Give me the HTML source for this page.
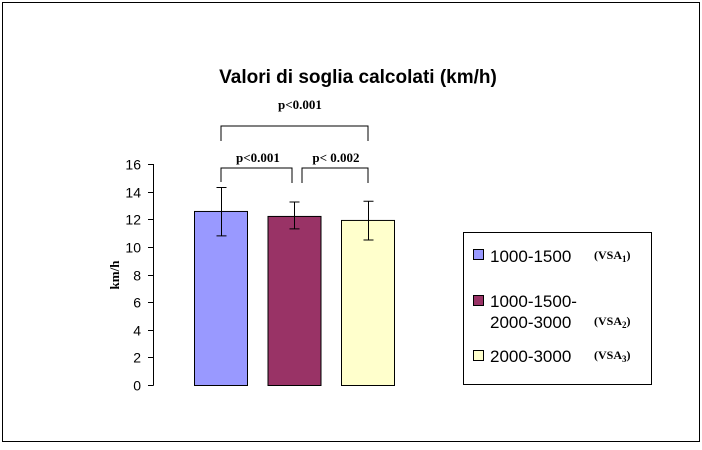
<!DOCTYPE html>
<html><head><meta charset="utf-8"><style>body{margin:0;background:#fff}svg{display:block}</style></head><body>
<svg width="702" height="450" xmlns="http://www.w3.org/2000/svg">
<rect x="2.5" y="2.5" width="697" height="439" fill="#fff" stroke="#000"/>
<text x="358" y="83" font-family="Liberation Sans, sans-serif" font-size="19" font-weight="bold" text-anchor="middle">Valori di soglia calcolati (km/h)</text>
<text x="119" y="275" font-family="Liberation Serif, serif" font-size="13" font-weight="bold" text-anchor="middle" transform="rotate(-90 119 275)">km/h</text>
<g id="axis"></g>
<g id="bars"></g>
<g fill="none" stroke="#000">
<path d="M221 141V126H368V141"/>
<path d="M221 182V168H292V183"/>
<path d="M302 183V168H368V183"/>
</g>
<g font-family="Liberation Serif, serif" font-size="13" font-weight="bold" text-anchor="middle">
<text x="300" y="109">p&lt;0.001</text>
<text x="258" y="162">p&lt;0.001</text>
<text x="336" y="162">p&lt; 0.002</text>
</g>
<g>
<rect x="463.5" y="232.5" width="188" height="152" fill="#fff" stroke="#000"/>
<rect x="473.5" y="249.5" width="10" height="10" fill="#9999ff" stroke="#000"/>
<text x="490" y="262" font-family="Liberation Sans, sans-serif" font-size="17">1000-1500</text>
<text x="594" y="259" font-family="Liberation Serif, serif" font-size="12" font-weight="bold">(VSA<tspan font-size="9" dy="3">1</tspan><tspan dy="-3">)</tspan></text>
<rect x="473.5" y="295.5" width="10" height="10" fill="#993366" stroke="#000"/>
<text x="490" y="307" font-family="Liberation Sans, sans-serif" font-size="17">1000-1500-</text>
<text x="490" y="328" font-family="Liberation Sans, sans-serif" font-size="17">2000-3000</text>
<text x="594" y="325" font-family="Liberation Serif, serif" font-size="12" font-weight="bold">(VSA<tspan font-size="9" dy="3">2</tspan><tspan dy="-3">)</tspan></text>
<rect x="473.5" y="350.5" width="10" height="10" fill="#ffffcc" stroke="#000"/>
<text x="490" y="362" font-family="Liberation Sans, sans-serif" font-size="17">2000-3000</text>
<text x="594" y="359" font-family="Liberation Serif, serif" font-size="12" font-weight="bold">(VSA<tspan font-size="9" dy="3">3</tspan><tspan dy="-3">)</tspan></text>
</g>
</svg>
<script>
const categories = ["VSA1", "VSA2", "VSA3"];
const values = [12.6, 12.24, 11.95];
const errLow = [10.8, 11.3, 10.5];
const errHigh = [14.3, 13.25, 13.3];
const colors = ["#9999ff", "#993366", "#ffffcc"];
const ticks = [0, 2, 4, 6, 8, 10, 12, 14, 16];
const NS = "http://www.w3.org/2000/svg";
const y0 = 385, yTop = 164, vMax = 16;
const yScale = v => y0 - (y0 - yTop) * v / vMax;
const xBand = i => 194 + i * 73.5;
const bw = 53;
function mk(tag, attrs, parent) { const e = document.createElementNS(NS, tag); for (const k in attrs) e.setAttribute(k, attrs[k]); parent.appendChild(e); return e; }
const ax = document.getElementById('axis');
const al = mk('line', {x1: 153.5, x2: 153.5, y1: yTop, y2: y0 + 0.5, stroke: '#000'}, ax);


ticks.forEach(t => {
  const y = Math.round(yScale(t)) + 0.5;
  const tl = mk('line', {x1: 148, x2: 153.5, y1: y, y2: y, stroke: '#000'}, ax);
  
  
  const tx = mk('text', {x: 141, y: y + 5, 'text-anchor': 'end', 'font-family': 'Liberation Sans, sans-serif', 'font-size': 14}, ax);
  tx.textContent = t;
  
  
});
const bg = document.getElementById('bars');
categories.forEach((c, i) => {
  const x = xBand(i), yt = yScale(values[i]);
  const r = mk('rect', {x: x + 0.5, y: yt + 0.5, width: bw, height: y0 - yt, fill: colors[i], stroke: '#000'}, bg);
  
  
  const cx = Math.round(x + bw / 2) + 0.5, yh = yScale(errHigh[i]), yl = yScale(errLow[i]);
  const e = mk('path', {d: `M${cx} ${yh}V${yl}M${cx-5} ${yh}H${cx+5}M${cx-5} ${yl}H${cx+5}`, stroke: '#000', fill: 'none'}, bg);
  
  
});
</script>
</body></html>
